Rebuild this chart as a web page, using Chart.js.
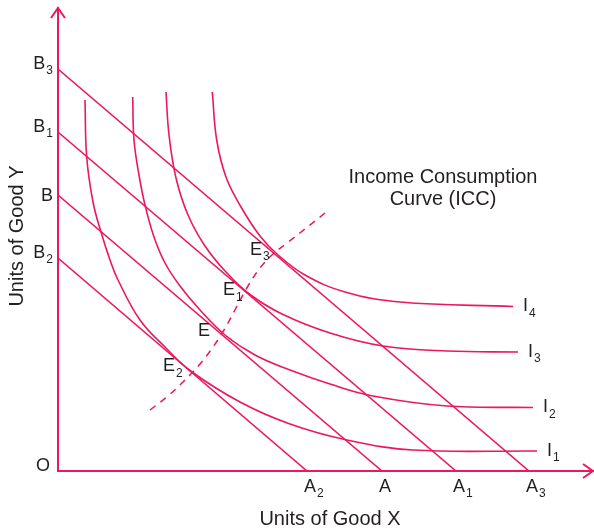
<!DOCTYPE html>
<html lang="en">
<head>
<meta charset="utf-8">
<title>Income Consumption Curve</title>
<script src="https://cdn.jsdelivr.net/npm/chart.js@4.4.1/dist/chart.umd.min.js"></script>
<style>
  html, body { margin: 0; padding: 0; background: #fff; }
  #grafica { display: block; }
</style>
</head>
<body>
<canvas id="grafica" width="594" height="528"></canvas>
<script>
// Rectas de presupuesto: corte con el eje Y y con el eje X
const etiquetasB = [["B", "3"], ["B", "1"], ["B", ""], ["B", "2"]];
const etiquetasA = [["A", "3"], ["A", "1"], ["A", ""], ["A", "2"]];
const corteY = [402, 339, 276, 213];
const corteX = [471, 398, 324, 249];

// Curvas de indiferencia
const curvaI1 = [[27, 371], [28.7, 314], [35, 269], [43, 239], [52, 211], [60, 191], [82, 151],
  [107, 124], [132, 100.5], [182, 69], [232, 47], [289, 31], [355, 21], [479, 20]];
const curvaI2 = [[74.7, 374], [76, 331], [81, 296], [87, 266], [96, 234], [107, 208], [122, 185],
  [142, 161], [167, 136], [197, 116], [232, 101], [272, 87], [315, 75], [389, 65], [475, 63.5]];
const curvaI3 = [[108, 379], [111, 336], [118, 293], [130, 256], [147, 225], [168, 199],
  [192, 176.5], [224, 157], [272, 138], [325, 125], [389, 120], [460, 119]];
const curvaI4 = [[154.3, 379], [158.7, 331], [168, 294], [183, 264], [202, 235], [219, 217],
  [247, 196], [287, 179], [342, 169], [455, 164.5]];
const etiquetasI = [["I", "1"], ["I", "2"], ["I", "3"], ["I", "4"]];

// Curva renta-consumo (discontinua)
const curvaICC = [[92, 61], [110, 75], [127, 91], [142, 107], [155, 124], [166, 141], [178, 163],
  [190, 185], [202, 203], [215, 217], [229, 228], [247, 242], [267, 258]];

// Puntos de equilibrio
const puntosE = [[132, 100.5], [167, 136], [192, 176.5], [219, 217]];
const etiquetasE = [["E", "2"], ["E", ""], ["E", "1"], ["E", "3"]];

const rosa = "#ec175d";
const tinta = "#231f20";
const fuente = '"Liberation Sans", Arial, sans-serif';

const aPuntos = lista => lista.map(p => ({ x: p[0], y: p[1] }));

const conjuntos = [];

corteY.forEach((valor, i) => {
  conjuntos.push({
    data: [{ x: 0, y: valor }, { x: corteX[i], y: 0 }],
    borderColor: rosa,
    borderWidth: 1.6,
    pointRadius: 0,
    showLine: true
  });
});

[curvaI1, curvaI2, curvaI3, curvaI4].forEach(curva => {
  conjuntos.push({
    data: aPuntos(curva),
    borderColor: rosa,
    borderWidth: 1.6,
    pointRadius: 0,
    showLine: true,
    tension: 0.4
  });
});

conjuntos.push({
  data: aPuntos(curvaICC),
  borderColor: rosa,
  borderWidth: 1.5,
  borderDash: [7, 6],
  pointRadius: 0,
  showLine: true,
  tension: 0.4
});

function etiqueta(ctx, base, sub, px, py, alinear) {
  ctx.font = `18px ${fuente}`;
  const anchoBase = ctx.measureText(base).width;
  ctx.font = `12px ${fuente}`;
  const anchoSub = sub ? ctx.measureText(sub).width + 1 : 0;
  const x0 = alinear === "right" ? px - anchoBase - anchoSub : px;
  ctx.textAlign = "left";
  ctx.textBaseline = "middle";
  ctx.font = `18px ${fuente}`;
  ctx.fillText(base, x0, py);
  if (sub) {
    ctx.font = `12px ${fuente}`;
    ctx.fillText(sub, x0 + anchoBase + 1, py + 7);
  }
}

const rotulos = {
  id: "rotulos",
  afterDraw(chart) {
    const { ctx, scales: { x, y } } = chart;
    const x0 = x.getPixelForValue(0);
    const y0 = y.getPixelForValue(0);

    ctx.save();

    // flechas de los ejes
    ctx.strokeStyle = rosa;
    ctx.lineWidth = 2;
    ctx.beginPath();
    const topeY = y.getPixelForValue(y.max);
    ctx.moveTo(x0 - 7, topeY + 10);
    ctx.lineTo(x0, topeY);
    ctx.lineTo(x0 + 7, topeY + 10);
    const topeX = x.getPixelForValue(x.max);
    ctx.moveTo(topeX - 10, y0 - 7);
    ctx.lineTo(topeX, y0);
    ctx.lineTo(topeX - 10, y0 + 7);
    ctx.stroke();

    ctx.fillStyle = tinta;

    // B en el eje Y y A en el eje X
    corteY.forEach((valor, i) => {
      const [base, sub] = etiquetasB[i];
      etiqueta(ctx, base, sub, x0 - 5, y.getPixelForValue(valor) - (sub ? 5 : -1), "right");
    });
    corteX.forEach((valor, i) => {
      const [base, sub] = etiquetasA[i];
      etiqueta(ctx, base, sub, x.getPixelForValue(valor) - 3, y0 + 16, "left");
    });
    etiqueta(ctx, "O", "", x0 - 8, y0 - 5, "right");

    // I al final de cada curva
    [curvaI1, curvaI2, curvaI3, curvaI4].forEach((curva, i) => {
      const ultimo = curva[curva.length - 1];
      const [base, sub] = etiquetasI[i];
      etiqueta(ctx, base, sub, x.getPixelForValue(ultimo[0]) + 10, y.getPixelForValue(ultimo[1]), "left");
    });

    // E en cada equilibrio
    puntosE.forEach((p, i) => {
      const [base, sub] = etiquetasE[i];
      etiqueta(ctx, base, sub, x.getPixelForValue(p[0]) - 27, y.getPixelForValue(p[1]) - 4, "left");
    });

    // textos
    ctx.font = `20px ${fuente}`;
    ctx.textAlign = "center";
    ctx.textBaseline = "middle";
    const cx = x.getPixelForValue(385);
    const cy = y.getPixelForValue(294);
    ctx.fillText("Income Consumption", cx, cy);
    ctx.fillText("Curve (ICC)", cx, cy + 22);

    ctx.fillText("Units of Good X", x.getPixelForValue(272), y0 + 48);

    ctx.translate(17, y.getPixelForValue(235));
    ctx.rotate(-Math.PI / 2);
    ctx.fillText("Units of Good Y", 0, 0);

    ctx.restore();
  }
};

new Chart(document.getElementById("grafica"), {
  type: "scatter",
  data: { datasets: conjuntos },
  options: {
    responsive: false,
    animation: false,
    layout: { padding: { left: 58, right: 1, top: 8, bottom: 57 } },
    plugins: {
      legend: { display: false },
      tooltip: { enabled: false }
    },
    scales: {
      x: {
        type: "linear",
        min: 0,
        max: 535,
        grid: { display: false, drawTicks: false },
        ticks: { display: false },
        border: { color: rosa, width: 2 }
      },
      y: {
        type: "linear",
        min: 0,
        max: 463,
        grid: { display: false, drawTicks: false },
        ticks: { display: false },
        border: { color: rosa, width: 2 }
      }
    }
  },
  plugins: [rotulos]
});
</script>
</body>
</html>
